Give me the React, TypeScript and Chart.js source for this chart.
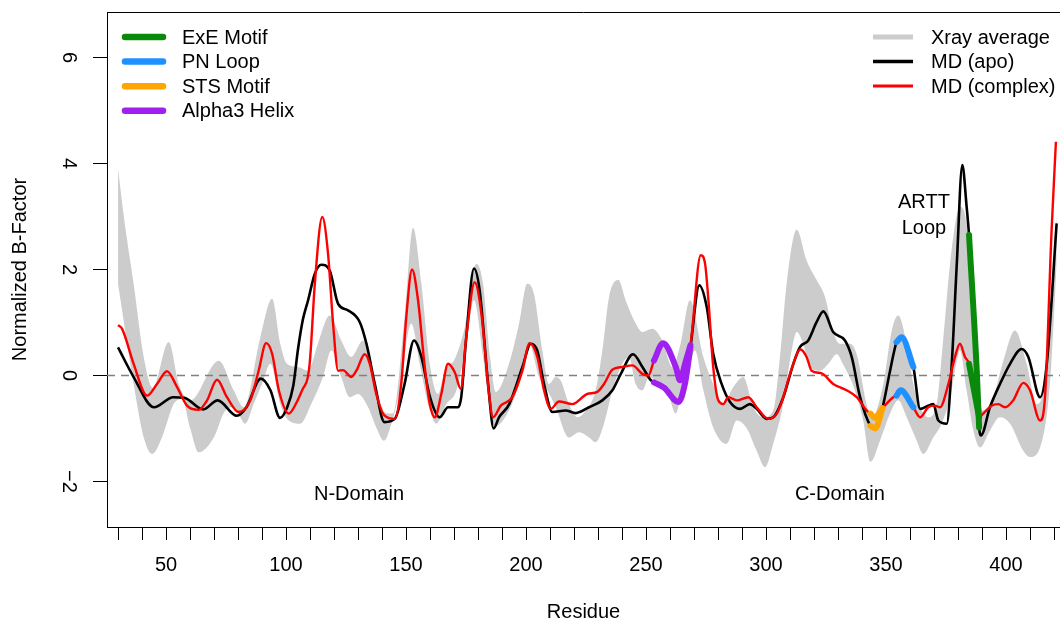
import React, { useEffect, useRef } from 'react';
import { Chart, registerables } from 'chart.js';

Chart.register(...registerables);

// ---- data (residue positions and normalized B-factors) ----
const apoX = [30, 36.5, 45, 53, 57.5, 65.5, 71.5, 79.5, 83.5, 89.5, 93.5, 97.5, 100.5, 103, 105, 107, 109.2, 112, 114.7, 118.2, 121.7, 125.8, 130.7, 133.5, 137, 141, 145.3, 149.4, 153.3, 156.4, 160, 164, 167.5, 171.7, 173, 175.1, 178.3, 180.7, 184.2, 186.5, 188.75, 193, 198.5, 202, 204.7, 207.5, 211, 216.5, 220.7, 226.25, 231.8, 236, 239.5, 244.6, 248.5, 252, 253.3, 257.5, 263.5, 266.25, 268.5, 272.2, 275.3, 278, 281.5, 285, 289.2, 293.3, 296.1, 300.3, 303, 307.2, 311.4, 314.2, 317.6, 321.1, 323.9, 328, 332.9, 335.7, 339.2, 343.5, 345.5, 348.5, 351.7, 354.4, 356.5, 361.4, 364.2, 367.6, 369.7, 371.8, 375.3, 377.4, 379.5, 381.8, 383.6, 384.6, 387.8, 388.8, 389.6, 393.3, 397.5, 401.7, 406.5, 409.3, 414.2, 417, 421.1];
const apoY = [0.53, -0.03, -0.6, -0.41, -0.42, -0.64, -0.47, -0.76, -0.6, -0.06, -0.28, -0.8, -0.6, -0.2, 0.5, 1.05, 1.42, 1.92, 2.09, 1.98, 1.35, 1.23, 1.01, 0.6, -0.16, -0.88, -0.82, -0.16, 0.66, 0.35, -0.41, -0.79, -0.6, -0.6, -0.41, 0.72, 2.02, 1.6, -0.16, -1.0, -0.79, -0.54, 0.16, 0.6, 0.47, -0.16, -0.69, -0.66, -0.71, -0.6, -0.47, -0.28, 0.03, 0.4, 0.16, -0.09, -0.13, -0.23, -0.5, -0.15, 0.53, 1.7, 1.29, 0.41, -0.16, -0.5, -0.63, -0.54, -0.63, -0.82, -0.79, -0.41, 0.22, 0.54, 0.66, 1.01, 1.21, 0.82, 0.66, 0.35, -0.41, -0.95, -1.0, -0.62, 0.09, 0.63, 0.72, 0.16, -0.63, -0.57, -0.54, -0.85, -0.91, 0.22, 2.11, 3.97, 3.18, 2.65, 0.1, -0.98, -1.13, -0.6, -0.16, 0.22, 0.5, 0.35, -0.41, 0.22, 2.87];

const complexX = [30, 31.7, 36.5, 42.1, 46.25, 50.4, 54.6, 58.75, 63.6, 67.1, 71.25, 75.4, 80.3, 85.1, 88.6, 91.7, 94.2, 97, 101.1, 104.5, 107, 109, 110, 112, 115.1, 117.5, 119.6, 121.7, 123.75, 127.2, 129.3, 132.8, 134.9, 137.6, 141.1, 145.3, 148, 150.1, 152.5, 155, 157.8, 159.9, 162, 164.7, 167.5, 170.3, 172.8, 175.1, 178.6, 181.4, 184.6, 186.25, 189.5, 194.3, 198.5, 201.5, 204.7, 207.5, 210.3, 213.75, 219.3, 225.5, 229.7, 232.5, 236, 240.1, 244.3, 248.5, 251, 253.3, 257.1, 262.4, 264.2, 266.25, 268.5, 272.8, 274.6, 276, 278, 280.1, 282.2, 284.3, 287.8, 292.6, 296.1, 301, 304.5, 307.2, 310, 314.4, 316.9, 319, 323.2, 328, 333.6, 337.8, 341.9, 343.5, 345.5, 348.5, 353, 354.4, 356.1, 361.4, 364.2, 367.6, 370.4, 372.5, 376, 378.75, 380.8, 382.9, 384.6, 388.8, 390.5, 394, 396.8, 399.6, 403, 407.2, 410, 414.2, 416.25, 419, 420.8];
const complexY = [0.95, 0.88, 0.22, -0.38, -0.16, 0.08, -0.22, -0.57, -0.65, -0.47, -0.08, -0.41, -0.69, -0.47, 0.09, 0.61, 0.41, -0.28, -0.72, -0.5, -0.25, -0.05, 0.3, 1.73, 2.99, 2.3, 0.98, 0.09, 0.1, -0.03, 0.09, 0.4, 0.22, -0.35, -0.76, -0.82, -0.16, 1.1, 2.0, 1.42, 0.16, -0.54, -0.79, -0.35, 0.22, 0.06, -0.25, 0.72, 1.76, 1.17, -0.35, -0.79, -0.57, -0.41, 0.09, 0.61, 0.35, -0.28, -0.63, -0.49, -0.54, -0.35, -0.31, -0.16, 0.11, 0.16, 0.19, 0.03, 0.0, 0.28, 0.61, 0.16, -0.09, 0.22, 0.57, 2.27, 2.11, 1.42, 0.16, -0.47, -0.54, -0.41, -0.47, -0.41, -0.6, -0.82, -0.72, -0.41, 0.03, 0.49, 0.35, 0.09, 0.04, -0.16, -0.28, -0.41, -0.66, -0.72, -0.8, -0.62, -0.41, -0.38, -0.28, -0.6, -0.79, -0.6, -0.57, -0.6, -0.16, 0.35, 0.6, 0.35, 0.22, -0.79, -0.72, -0.57, -0.54, -0.6, -0.47, -0.14, -0.28, -0.85, -0.41, 2.74, 4.41];

const xrayHighX = [30, 32.4, 36.5, 40.7, 44.5, 51.1, 55.3, 60.1, 72, 78.2, 82.4, 89.3, 94.2, 97.6, 100.4, 105, 109.2, 113.3, 118.2, 123, 127.2, 132.1, 135.5, 139.7, 144.6, 149.4, 152.9, 156.4, 159.9, 163.3, 166.1, 170.3, 174.5, 179.3, 182.1, 185, 187.4, 192.9, 197.1, 200.5, 203.3, 206.8, 209.6, 212.4, 214.5, 217.9, 221.4, 224.9, 229, 231.8, 234.6, 238.5, 241.5, 245.7, 248.5, 252.6, 256.8, 261, 264.4, 268.3, 273.9, 278, 282.2, 286.4, 290.5, 294.7, 298.9, 303, 305.8, 308.6, 312.8, 316.9, 321.1, 324.6, 328, 330.8, 335, 337.8, 341.9, 344, 348.9, 352.4, 355.1, 358.6, 361.4, 364.2, 367.6, 371.1, 373.9, 376.7, 380.8, 383.6, 385, 387.8, 390.5, 394.7, 398.9, 403.75, 408.6, 412.8, 415.5, 419, 421.1];
const xrayHighY = [3.9, 3.0, 1.73, 0.35, -0.23, 0.63, -0.16, -0.47, 0.28, -0.28, -0.6, 0.72, 1.45, 0.6, 0.22, 0.16, 0.09, 0.6, 1.13, 0.66, 0.35, 0.66, 0.16, -0.66, -0.72, 1.1, 2.79, 1.73, 0.22, -0.35, 0.09, 0.31, 0.91, 2.11, 1.73, 0.35, -0.31, 0.22, 0.98, 1.73, 1.54, 0.47, -0.16, -0.03, -0.1, -0.54, -0.79, -0.66, -0.28, 0.47, 1.48, 1.8, 1.42, 0.98, 0.82, 0.88, 0.66, 0.16, 0.6, 1.42, 0.35, -0.16, -0.54, -0.22, -0.03, -0.6, -0.79, -0.66, 0.35, 1.73, 2.75, 2.17, 1.8, 1.48, 0.82, 0.6, 0.6, 0.4, -0.54, -0.8, -0.16, 0.85, 1.13, 0.6, -0.16, -0.6, -0.79, -0.54, 0.72, 2.11, 3.18, 2.87, 1.48, -0.16, -0.66, -0.41, 0.28, 0.85, 0.22, -0.54, -0.28, 1.48, 3.06];

const xrayLowX = [30, 36.5, 40.7, 44.2, 48.3, 53.2, 56.7, 60.1, 63.6, 69.9, 74.7, 78.2, 83, 86.5, 90, 93.5, 97.6, 101.1, 106, 110.5, 115.4, 118.9, 123, 126.5, 130, 134.2, 137.6, 140.8, 143.9, 147.4, 152.2, 155.7, 159.2, 162.6, 166.8, 171, 175.1, 178.3, 182.1, 185.5, 187.4, 192.9, 197.1, 201.3, 205.4, 208.9, 212.4, 217.9, 222.1, 226.25, 229, 232.5, 236, 240.1, 242.9, 245.7, 248.5, 251.25, 255.4, 259.6, 262.4, 265.8, 268.3, 270.4, 273.9, 278, 283.6, 287.8, 292, 296.1, 299.6, 303, 307.2, 310.7, 312.8, 315.5, 318.3, 322.5, 326, 329.5, 332.2, 336.4, 340.5, 343.5, 347.5, 351.7, 355.1, 358.6, 362.8, 365.5, 369.7, 373.2, 376.7, 379.5, 380.8, 383.6, 386.4, 389.2, 393.3, 397.5, 401.7, 407.2, 410, 414.2, 418.3, 421.1];
const xrayLowY = [1.73, -0.16, -1.17, -1.48, -1.17, -0.54, -0.45, -1.0, -1.45, -1.17, -0.66, -0.6, -0.91, -0.54, -0.16, 0.22, -0.54, -0.85, -0.91, -0.54, -0.03, 0.47, -0.03, -0.41, -0.35, -0.6, -0.98, -1.23, -0.91, -0.28, 0.98, 0.22, -0.54, -0.91, -0.54, -0.28, 0.6, 1.42, 0.35, -0.79, -0.95, -0.66, -0.16, 0.6, -0.03, -0.28, -0.6, -1.17, -1.07, -1.17, -1.26, -0.91, -0.28, 0.22, 0.35, -0.16, -0.28, -0.03, -0.16, -0.41, -0.72, -0.03, 0.22, 0.47, -0.28, -0.98, -1.29, -0.85, -1.0, -1.42, -1.73, -1.29, -0.54, 0.47, 0.82, 0.6, 0.16, 0.09, 0.22, 0.4, 0.2, -0.2, -0.85, -1.63, -1.23, -0.72, -0.47, -0.79, -1.23, -1.48, -1.17, -0.91, -0.41, 0.28, 0.47, -0.28, -1.04, -1.36, -1.04, -0.79, -0.91, -1.42, -1.54, -1.36, -0.16, 2.1];

// highlighted regions (residue ranges)
const motifNames = ['ExE Motif', 'PN Loop', 'STS Motif', 'Alpha3 Helix'];
const motifColors = ['#0A8A0A', '#1E90FF', '#FFA500', '#A020F0'];
const motifStart = [384.6, 354.4, 343.5, 253.3];
const motifEnd = [388.8, 361.4, 348.5, 268.5];

const seriesNames = ['Xray average', 'MD (apo)', 'MD (complex)'];
const seriesColors = ['#CCCCCC', '#000000', '#FF0000'];

const xTickValues: number[] = [];
for (let v = 30; v <= 420; v += 10) xTickValues.push(v);
const xLabelEvery = 50;
const yTickValues = [-2, 0, 2, 4, 6];

const xTitle = 'Residue';
const yTitle = 'Normalized B-Factor';
const annotationTexts = ['N-Domain', 'C-Domain', 'ARTT', 'Loop'];

const X_MIN = 25.4;
const X_MAX = 422.5;
const Y_MIN = -2.86;
const Y_MAX = 6.86;

const FONT = "'Liberation Sans', Arial, Helvetica, sans-serif";

const toPoints = (xs: number[], ys: number[]) => xs.map((x, i) => ({ x, y: ys[i] }));
const subset = (xs: number[], ys: number[], a: number, b: number) =>
  toPoints(xs, ys).filter((p) => p.x >= a - 1e-9 && p.x <= b + 1e-9);

const decorPlugin = {
  id: 'decor',
  afterDraw(chart: any) {
    const { ctx, chartArea, scales } = chart;
    const xs = scales.x;
    const ys = scales.y;
    ctx.save();
    // top frame line
    ctx.strokeStyle = '#000';
    ctx.lineWidth = 1;
    ctx.beginPath();
    ctx.moveTo(chartArea.left, Math.round(chartArea.top) + 0.5);
    ctx.lineTo(chartArea.right, Math.round(chartArea.top) + 0.5);
    ctx.stroke();

    ctx.font = `20px ${FONT}`;
    ctx.fillStyle = '#000';
    ctx.textBaseline = 'middle';

    // left legend (motifs)
    ctx.lineCap = 'round';
    motifNames.forEach((name, i) => {
      const y = 37 + i * 24.6;
      ctx.strokeStyle = motifColors[i];
      ctx.lineWidth = 6.5;
      ctx.beginPath();
      ctx.moveTo(125, y);
      ctx.lineTo(163, y);
      ctx.stroke();
      ctx.textAlign = 'left';
      ctx.fillText(name, 182, y + 1);
    });

    // right legend (series)
    ctx.lineCap = 'butt';
    const widths = [5, 3.5, 3];
    seriesNames.forEach((name, i) => {
      const y = 37 + i * 24.5;
      ctx.strokeStyle = seriesColors[i];
      ctx.lineWidth = widths[i];
      ctx.beginPath();
      ctx.moveTo(873, y);
      ctx.lineTo(913, y);
      ctx.stroke();
      ctx.textAlign = 'left';
      ctx.fillText(name, 931, y + 1);
    });

    // annotations
    ctx.textAlign = 'center';
    const ann = [
      { t: annotationTexts[0], x: 130.4, y: -2.23 },
      { t: annotationTexts[1], x: 330.8, y: -2.23 },
      { t: annotationTexts[2], x: 365.8, y: 3.29 },
      { t: annotationTexts[3], x: 365.8, y: 2.8 },
    ];
    ann.forEach((a) => {
      ctx.fillText(a.t, xs.getPixelForValue(a.x), ys.getPixelForValue(a.y) + 1);
    });
    ctx.restore();
  },
};

export default function App() {
  const ref = useRef<HTMLCanvasElement | null>(null);

  useEffect(() => {
    if (!ref.current) return;
    Chart.defaults.font.family = FONT;
    Chart.defaults.color = '#000';

    const base = {
      pointRadius: 0,
      pointHoverRadius: 0,
      cubicInterpolationMode: 'monotone' as const,
    };

    const highlightSets: any[] = [];
    motifNames.forEach((name, i) => {
      [
        [apoX, apoY],
        [complexX, complexY],
      ].forEach(([xs, ys], k) => {
        highlightSets.push({
          ...base,
          label: `${name} ${k === 0 ? 'apo' : 'complex'}`,
          data: subset(xs, ys, motifStart[i], motifEnd[i]),
          borderColor: motifColors[i],
          borderWidth: 6,
          borderCapStyle: 'round',
          borderJoinStyle: 'round',
          fill: false,
          order: 1,
        });
      });
    });

    const chart = new Chart(ref.current, {
      type: 'line',
      data: {
        datasets: [
          {
            ...base,
            label: 'Xray low',
            data: toPoints(xrayLowX, xrayLowY),
            borderWidth: 0,
            borderColor: 'rgba(0,0,0,0)',
            fill: false,
            order: 10,
          },
          {
            ...base,
            label: 'Xray average',
            data: toPoints(xrayHighX, xrayHighY),
            borderWidth: 0,
            borderColor: 'rgba(0,0,0,0)',
            backgroundColor: seriesColors[0],
            fill: '-1',
            order: 10,
          },
          {
            label: 'zero',
            data: [
              { x: X_MIN, y: 0 },
              { x: X_MAX, y: 0 },
            ],
            pointRadius: 0,
            borderColor: '#808080',
            borderWidth: 1.5,
            borderDash: [8, 6],
            fill: false,
            order: 9,
          },
          {
            ...base,
            label: seriesNames[1],
            data: toPoints(apoX, apoY),
            borderColor: seriesColors[1],
            borderWidth: 2.6,
            fill: false,
            order: 8,
          },
          {
            ...base,
            label: seriesNames[2],
            data: toPoints(complexX, complexY),
            borderColor: seriesColors[2],
            borderWidth: 2.4,
            fill: false,
            order: 7,
          },
          ...highlightSets,
        ],
      },
      options: {
        responsive: false,
        animation: false,
        events: [],
        layout: { padding: { top: 12, right: 0, left: 0, bottom: 0 } },
        plugins: {
          legend: { display: false },
          tooltip: { enabled: false },
          filler: { propagate: false },
        },
        scales: {
          x: {
            type: 'linear',
            min: X_MIN,
            max: X_MAX,
            afterBuildTicks: (scale: any) => {
              scale.ticks = xTickValues.map((v) => ({ value: v }));
            },
            afterFit: (scale: any) => {
              scale.height = 95;
              scale.paddingLeft = 0;
              scale.paddingRight = 0;
            },
            ticks: {
              autoSkip: false,
              maxRotation: 0,
              minRotation: 0,
              padding: 13,
              font: { size: 20 },
              color: '#000',
              callback: (v: any) => (Number(v) % xLabelEvery === 0 ? String(v) : ''),
            },
            grid: {
              display: true,
              drawOnChartArea: false,
              drawTicks: true,
              tickLength: 13,
              color: '#000',
              lineWidth: 1,
            },
            border: { display: true, color: '#000', width: 1 },
            title: {
              display: true,
              text: xTitle,
              font: { size: 20, lineHeight: 1 },
              color: '#000',
              padding: { top: 0, bottom: 0 },
            },
          },
          y: {
            type: 'linear',
            min: Y_MIN,
            max: Y_MAX,
            afterBuildTicks: (scale: any) => {
              scale.ticks = yTickValues.map((v) => ({ value: v }));
            },
            afterFit: (scale: any) => {
              scale.width = 107;
              scale.paddingTop = 0;
              scale.paddingBottom = 0;
            },
            ticks: {
              minRotation: -90,
              maxRotation: -90,
              crossAlign: 'center',
              padding: 13,
              font: { size: 20 },
              color: '#000',
              callback: (v: any) => (Number(v) < 0 ? '\u2212' + Math.abs(Number(v)) : String(v)),
            },
            grid: {
              display: true,
              drawOnChartArea: false,
              drawTicks: true,
              tickLength: 14,
              color: '#000',
              lineWidth: 1,
            },
            border: { display: true, color: '#000', width: 1 },
            title: {
              display: true,
              text: yTitle,
              font: { size: 20, lineHeight: 1 },
              color: '#000',
              padding: { top: 10, bottom: 0 },
            },
          },
        },
      } as any,
      plugins: [decorPlugin],
    });

    return () => chart.destroy();
  }, []);

  return (
    <div style={{ position: 'absolute', left: 0, top: 0, width: 1060, height: 622, background: '#fff' }}>
      <canvas ref={ref} width={1060} height={622} style={{ display: 'block' }} />
    </div>
  );
}
